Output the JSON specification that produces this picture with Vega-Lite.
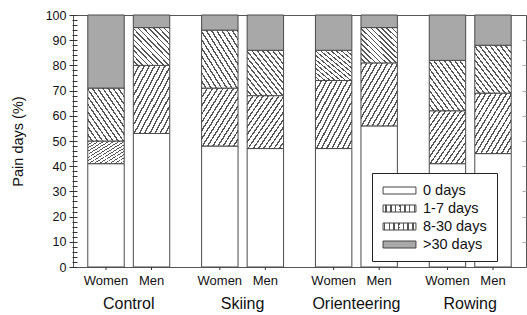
{
  "$schema": "https://vega.github.io/schema/vega-lite/v6.json",
  "autosize": "none",
  "width": 453,
  "height": 252,
  "padding": {"left": 73, "top": 15, "right": 1, "bottom": 48},
  "config": {
    "font": "Liberation Sans",
    "view": {"stroke": "#555", "strokeWidth": 1},
    "axis": {"labelColor": "#111", "titleColor": "#111", "grid": false}
  },
  "resolve": {"axis": {"y": "independent"}},
  "data": {
    "values": [
      {"group": "Control", "sex": "Women", "category": "0 days", "value": 41},
      {"group": "Control", "sex": "Women", "category": "1-7 days", "value": 9},
      {"group": "Control", "sex": "Women", "category": "8-30 days", "value": 21},
      {"group": "Control", "sex": "Women", "category": ">30 days", "value": 29},
      {"group": "Control", "sex": "Men", "category": "0 days", "value": 53},
      {"group": "Control", "sex": "Men", "category": "1-7 days", "value": 27},
      {"group": "Control", "sex": "Men", "category": "8-30 days", "value": 15},
      {"group": "Control", "sex": "Men", "category": ">30 days", "value": 5},
      {"group": "Skiing", "sex": "Women", "category": "0 days", "value": 48},
      {"group": "Skiing", "sex": "Women", "category": "1-7 days", "value": 23},
      {"group": "Skiing", "sex": "Women", "category": "8-30 days", "value": 23},
      {"group": "Skiing", "sex": "Women", "category": ">30 days", "value": 6},
      {"group": "Skiing", "sex": "Men", "category": "0 days", "value": 47},
      {"group": "Skiing", "sex": "Men", "category": "1-7 days", "value": 21},
      {"group": "Skiing", "sex": "Men", "category": "8-30 days", "value": 18},
      {"group": "Skiing", "sex": "Men", "category": ">30 days", "value": 14},
      {"group": "Orienteering", "sex": "Women", "category": "0 days", "value": 47},
      {"group": "Orienteering", "sex": "Women", "category": "1-7 days", "value": 27},
      {"group": "Orienteering", "sex": "Women", "category": "8-30 days", "value": 12},
      {"group": "Orienteering", "sex": "Women", "category": ">30 days", "value": 14},
      {"group": "Orienteering", "sex": "Men", "category": "0 days", "value": 56},
      {"group": "Orienteering", "sex": "Men", "category": "1-7 days", "value": 25},
      {"group": "Orienteering", "sex": "Men", "category": "8-30 days", "value": 14},
      {"group": "Orienteering", "sex": "Men", "category": ">30 days", "value": 5},
      {"group": "Rowing", "sex": "Women", "category": "0 days", "value": 41},
      {"group": "Rowing", "sex": "Women", "category": "1-7 days", "value": 21},
      {"group": "Rowing", "sex": "Women", "category": "8-30 days", "value": 20},
      {"group": "Rowing", "sex": "Women", "category": ">30 days", "value": 18},
      {"group": "Rowing", "sex": "Men", "category": "0 days", "value": 45},
      {"group": "Rowing", "sex": "Men", "category": "1-7 days", "value": 24},
      {"group": "Rowing", "sex": "Men", "category": "8-30 days", "value": 19},
      {"group": "Rowing", "sex": "Men", "category": ">30 days", "value": 12}
    ]
  },
  "encoding": {
    "x": {
      "field": "group", "type": "nominal",
      "sort": ["Control", "Skiing", "Orienteering", "Rowing"],
      "scale": {"paddingInner": 0.28, "paddingOuter": 0.13},
      "axis": {"title": null, "ticks": false, "tickSize": 0, "domain": false, "labelAngle": 0, "labelPadding": 28, "labelFontSize": 16}
    },
    "xOffset": {
      "field": "sex", "type": "nominal", "sort": ["Women", "Men"],
      "scale": {"paddingInner": 0.2, "paddingOuter": 0}
    }
  },
  "layer": [
    {
      "mark": {"type": "bar", "stroke": "#4a4a4a", "strokeWidth": 1},
      "encoding": {
        "y": {
          "aggregate": "sum", "field": "value", "type": "quantitative",
          "stack": "zero",
          "scale": {"domain": [0, 100], "nice": false},
          "axis": {
            "orient": "left",
            "title": "Pain days (%)", "titleFontSize": 14.5, "titleFontWeight": "normal", "titlePadding": 20,
            "values": [0,2,4,6,8,10,12,14,16,18,20,22,24,26,28,30,32,34,36,38,40,42,44,46,48,50,52,54,56,58,60,62,64,66,68,70,72,74,76,78,80,82,84,86,88,90,92,94,96,98,100],
            "labelExpr": "datum.value % 10 === 0 ? datum.value : ''",
            "labelOverlap": false, "labelFlush": false, "labelFontSize": 12.5,
            "domain": false, "offset": -4, "ticks": true,
            "tickColor": "#333", "tickWidth": 1,
            "tickSize": {"condition": {"test": "datum.value % 10 === 0", "value": 8}, "value": 5},
            "labelPadding": 3
          }
        },
        "color": {
          "field": "category", "type": "nominal",
          "scale": {
            "domain": ["0 days", "1-7 days", "8-30 days", ">30 days"],
            "range": [
              "#ffffff",
              {"expr": "{gradient: 'linear', x1: 0, y1: 0, x2: 1, y2: 1, stops: [{offset: 0, color: '#555'}, {offset: 0.0214, color: '#555'}, {offset: 0.0214, color: '#fff'}, {offset: 0.0714, color: '#fff'}, {offset: 0.0714, color: '#555'}, {offset: 0.0929, color: '#555'}, {offset: 0.0929, color: '#fff'}, {offset: 0.1429, color: '#fff'}, {offset: 0.1429, color: '#555'}, {offset: 0.1643, color: '#555'}, {offset: 0.1643, color: '#fff'}, {offset: 0.2143, color: '#fff'}, {offset: 0.2143, color: '#555'}, {offset: 0.2357, color: '#555'}, {offset: 0.2357, color: '#fff'}, {offset: 0.2857, color: '#fff'}, {offset: 0.2857, color: '#555'}, {offset: 0.3071, color: '#555'}, {offset: 0.3071, color: '#fff'}, {offset: 0.3571, color: '#fff'}, {offset: 0.3571, color: '#555'}, {offset: 0.3786, color: '#555'}, {offset: 0.3786, color: '#fff'}, {offset: 0.4286, color: '#fff'}, {offset: 0.4286, color: '#555'}, {offset: 0.45, color: '#555'}, {offset: 0.45, color: '#fff'}, {offset: 0.5, color: '#fff'}, {offset: 0.5, color: '#555'}, {offset: 0.5214, color: '#555'}, {offset: 0.5214, color: '#fff'}, {offset: 0.5714, color: '#fff'}, {offset: 0.5714, color: '#555'}, {offset: 0.5929, color: '#555'}, {offset: 0.5929, color: '#fff'}, {offset: 0.6429, color: '#fff'}, {offset: 0.6429, color: '#555'}, {offset: 0.6643, color: '#555'}, {offset: 0.6643, color: '#fff'}, {offset: 0.7143, color: '#fff'}, {offset: 0.7143, color: '#555'}, {offset: 0.7357, color: '#555'}, {offset: 0.7357, color: '#fff'}, {offset: 0.7857, color: '#fff'}, {offset: 0.7857, color: '#555'}, {offset: 0.8071, color: '#555'}, {offset: 0.8071, color: '#fff'}, {offset: 0.8571, color: '#fff'}, {offset: 0.8571, color: '#555'}, {offset: 0.8786, color: '#555'}, {offset: 0.8786, color: '#fff'}, {offset: 0.9286, color: '#fff'}, {offset: 0.9286, color: '#555'}, {offset: 0.95, color: '#555'}, {offset: 0.95, color: '#fff'}, {offset: 1, color: '#fff'}]}"},
              {"expr": "{gradient: 'linear', x1: 1, y1: 0, x2: 0, y2: 1, stops: [{offset: 0, color: '#555'}, {offset: 0.0214, color: '#555'}, {offset: 0.0214, color: '#fff'}, {offset: 0.0714, color: '#fff'}, {offset: 0.0714, color: '#555'}, {offset: 0.0929, color: '#555'}, {offset: 0.0929, color: '#fff'}, {offset: 0.1429, color: '#fff'}, {offset: 0.1429, color: '#555'}, {offset: 0.1643, color: '#555'}, {offset: 0.1643, color: '#fff'}, {offset: 0.2143, color: '#fff'}, {offset: 0.2143, color: '#555'}, {offset: 0.2357, color: '#555'}, {offset: 0.2357, color: '#fff'}, {offset: 0.2857, color: '#fff'}, {offset: 0.2857, color: '#555'}, {offset: 0.3071, color: '#555'}, {offset: 0.3071, color: '#fff'}, {offset: 0.3571, color: '#fff'}, {offset: 0.3571, color: '#555'}, {offset: 0.3786, color: '#555'}, {offset: 0.3786, color: '#fff'}, {offset: 0.4286, color: '#fff'}, {offset: 0.4286, color: '#555'}, {offset: 0.45, color: '#555'}, {offset: 0.45, color: '#fff'}, {offset: 0.5, color: '#fff'}, {offset: 0.5, color: '#555'}, {offset: 0.5214, color: '#555'}, {offset: 0.5214, color: '#fff'}, {offset: 0.5714, color: '#fff'}, {offset: 0.5714, color: '#555'}, {offset: 0.5929, color: '#555'}, {offset: 0.5929, color: '#fff'}, {offset: 0.6429, color: '#fff'}, {offset: 0.6429, color: '#555'}, {offset: 0.6643, color: '#555'}, {offset: 0.6643, color: '#fff'}, {offset: 0.7143, color: '#fff'}, {offset: 0.7143, color: '#555'}, {offset: 0.7357, color: '#555'}, {offset: 0.7357, color: '#fff'}, {offset: 0.7857, color: '#fff'}, {offset: 0.7857, color: '#555'}, {offset: 0.8071, color: '#555'}, {offset: 0.8071, color: '#fff'}, {offset: 0.8571, color: '#fff'}, {offset: 0.8571, color: '#555'}, {offset: 0.8786, color: '#555'}, {offset: 0.8786, color: '#fff'}, {offset: 0.9286, color: '#fff'}, {offset: 0.9286, color: '#555'}, {offset: 0.95, color: '#555'}, {offset: 0.95, color: '#fff'}, {offset: 1, color: '#fff'}]}"},
              "#a8a8a8"
            ]
          },
          "legend": {
            "title": null, "orient": "none", "legendX": 299, "legendY": 158,
            "strokeColor": "#222", "fillColor": "#ffffff", "padding": 10,
            "symbolType": "M-2.35,-0.5H2.35V0.5H-2.35Z", "symbolSize": 196,
            "symbolStrokeColor": "#444", "symbolStrokeWidth": 1, "symbolOffset": 10,
            "labelFontSize": 14.5, "labelColor": "#111", "labelOffset": 16, "rowPadding": 3
          }
        },
        "order": {"field": "category", "sort": "ascending"}
      }
    },
    {
      "transform": [{"filter": "datum.category === '0 days'"}],
      "mark": {"type": "text", "baseline": "top", "dy": 8, "fontSize": 13, "color": "#111"},
      "encoding": {
        "y": {"datum": 0, "type": "quantitative", "axis": null},
        "text": {"field": "sex"}
      }
    },
    {
      "transform": [{"filter": "datum.category === '0 days'"}],
      "mark": {"type": "rule", "color": "#333", "strokeWidth": 1},
      "encoding": {
        "y": {"datum": 0, "type": "quantitative",
          "axis": {"orient": "right", "title": null, "labels": false, "domain": false, "values": [10,20,30,40,50,60,70,80,90], "tickSize": -4, "tickColor": "#aaa"}},
        "y2": {"datum": -1.2}
      }
    }
  ]
}
